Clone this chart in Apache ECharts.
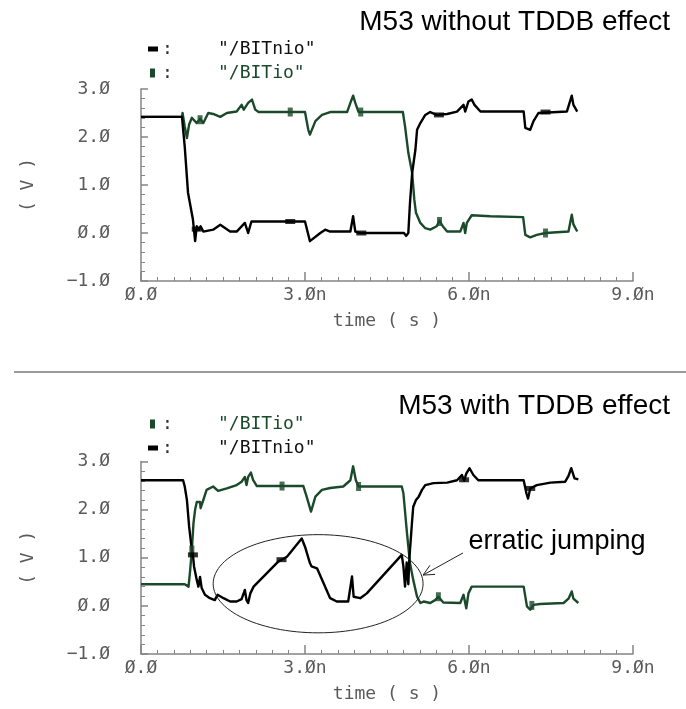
<!DOCTYPE html>
<html>
<head>
<meta charset="utf-8">
<script src="https://cdn.jsdelivr.net/npm/echarts@6/dist/echarts.min.js"></script>
<style>
  html, body { margin: 0; padding: 0; background: #fff; }
  #chart { width: 686px; height: 709px; }
</style>
</head>
<body>
<div id="chart"></div>
<script>
// Waveforms: [time (ns), voltage (V)]
const topBitnio = [[0,2.42],[0.75,2.42],[0.80,1.80],[0.86,0.84],[0.95,0.28],[0.99,-0.17],[1.02,0.14],[1.06,0.07],[1.09,0.14],[1.14,0.03],[1.32,0.07],[1.45,0.17],[1.63,0.03],[1.75,0.03],[1.90,0.21],[1.96,0.00],[2.02,0.24],[3.00,0.24],[3.09,-0.17],[3.28,0.00],[3.37,0.07],[3.46,0.03],[3.83,0.03],[3.88,0.35],[3.92,0.03],[4.00,0.00],[4.81,0.00],[4.85,-0.06],[4.89,0.00],[4.92,0.62],[4.96,1.25],[5.02,1.74],[5.05,2.15],[5.11,2.29],[5.20,2.46],[5.29,2.52],[5.41,2.46],[5.60,2.48],[5.78,2.53],[5.90,2.67],[5.93,2.53],[5.99,2.74],[6.05,2.78],[6.10,2.67],[6.21,2.53],[7.00,2.53],[7.03,2.19],[7.12,2.15],[7.18,2.33],[7.27,2.50],[7.79,2.53],[7.88,2.86],[7.91,2.67],[7.98,2.53]];
const topBitio = [[0,2.42],[0.75,2.42],[0.76,2.50],[0.80,2.22],[0.84,1.98],[0.88,2.26],[0.93,2.40],[1.02,2.29],[1.08,2.38],[1.14,2.29],[1.23,2.50],[1.32,2.48],[1.45,2.42],[1.57,2.50],[1.75,2.53],[1.84,2.67],[1.88,2.57],[1.96,2.71],[2.03,2.78],[2.09,2.57],[2.15,2.52],[3.00,2.52],[3.06,2.15],[3.09,2.05],[3.19,2.33],[3.31,2.46],[3.46,2.52],[3.77,2.52],[3.83,2.71],[3.88,2.86],[3.92,2.71],[3.98,2.52],[4.79,2.52],[4.83,2.22],[4.89,1.67],[4.96,1.25],[5.00,0.69],[5.03,0.42],[5.11,0.21],[5.20,0.10],[5.29,0.07],[5.41,0.14],[5.46,0.26],[5.52,0.14],[5.60,0.03],[5.84,0.03],[5.90,0.21],[5.93,0.00],[5.96,0.21],[6.05,0.37],[6.39,0.35],[6.99,0.33],[7.03,-0.04],[7.12,-0.09],[7.24,-0.04],[7.40,0.00],[7.82,0.03],[7.88,0.38],[7.91,0.18],[7.98,0.03]];
const botBitio = [[0,0.45],[0.80,0.45],[0.82,0.49],[0.87,0.40],[0.90,0.75],[0.93,1.16],[0.96,1.72],[0.99,2.00],[1.02,2.16],[1.08,2.16],[1.09,2.03],[1.14,2.20],[1.20,2.41],[1.32,2.48],[1.41,2.39],[1.57,2.44],[1.75,2.51],[1.84,2.58],[1.90,2.68],[1.93,2.51],[1.96,2.68],[2.01,2.77],[2.05,2.62],[2.12,2.49],[2.97,2.49],[3.03,2.27],[3.11,1.96],[3.19,2.27],[3.31,2.41],[3.46,2.45],[3.70,2.48],[3.83,2.61],[3.88,2.90],[3.93,2.61],[3.98,2.48],[4.77,2.48],[4.80,2.34],[4.86,1.58],[4.92,0.89],[4.98,0.54],[5.05,0.19],[5.11,0.06],[5.17,0.09],[5.29,0.06],[5.38,0.12],[5.44,0.19],[5.53,0.07],[5.84,0.06],[5.90,0.23],[5.95,-0.05],[5.99,0.26],[6.05,0.40],[7.00,0.40],[7.06,-0.01],[7.12,-0.08],[7.18,0.02],[7.30,0.04],[7.73,0.06],[7.82,0.15],[7.88,0.30],[7.91,0.15],[8.00,0.06]];
const botBitnio = [[0,2.61],[0.77,2.61],[0.80,2.48],[0.84,2.20],[0.88,1.65],[0.93,1.16],[0.95,1.06],[0.97,0.82],[1.02,0.54],[1.05,0.40],[1.08,0.60],[1.11,0.37],[1.17,0.23],[1.26,0.16],[1.35,0.12],[1.40,0.23],[1.51,0.16],[1.63,0.09],[1.75,0.09],[1.84,0.14],[1.90,0.33],[1.93,0.12],[1.96,0.06],[2.00,0.26],[2.06,0.40],[2.51,0.92],[2.67,1.02],[2.94,1.40],[3.00,1.23],[3.09,0.89],[3.12,0.82],[3.22,0.78],[3.34,0.47],[3.46,0.16],[3.58,0.09],[3.79,0.09],[3.86,0.61],[3.89,0.19],[4.01,0.16],[4.13,0.26],[4.77,1.06],[4.80,0.82],[4.83,0.40],[4.86,0.90],[4.89,0.45],[4.91,1.00],[4.96,1.78],[4.98,2.06],[5.03,2.20],[5.08,2.27],[5.14,2.41],[5.20,2.51],[5.35,2.55],[5.60,2.56],[5.78,2.61],[5.87,2.72],[5.91,2.60],[5.95,2.75],[6.01,2.86],[6.08,2.72],[6.17,2.61],[7.00,2.61],[7.05,2.34],[7.08,2.23],[7.12,2.44],[7.24,2.51],[7.49,2.56],[7.76,2.58],[7.82,2.70],[7.87,2.86],[7.93,2.65],[8.00,2.63]];

// Plot-symbol markers sitting on the traces
const topBitnioMarks = [[1.02,0.08],[2.73,0.24],[4.03,0.00],[5.45,2.46],[7.40,2.52]];
const topBitioMarks = [[1.08,2.36],[2.73,2.52],[4.02,2.52],[5.46,0.24],[7.40,0.00]];
const botBitioMarks = [[0.93,1.16],[2.58,2.49],[3.98,2.48],[5.44,0.19],[7.15,0.01]];
const botBitnioMarks = [[0.95,1.06],[2.57,0.96],[5.91,2.62],[7.12,2.44]];

// Axis tick labels
const xTickLabels = ['Ø.Ø', '3.Øn', '6.Øn', '9.Øn'];
const yTickLabels = ['−1.Ø', 'Ø.Ø', '1.Ø', '2.Ø', '3.Ø'];

const NIO_NAME = '"/BITnio"';
const IO_NAME = '"/BITio"';
const BLACK = '#000000';
const GREEN = '#1b4a2b';
const AXIS = '#858585';
const LABEL = '#5a5a5a';
const MONO = 'DejaVu Sans Mono';
const SANS = 'Liberation Sans';

function xAxisCfg(gi) {
  return {
    type: 'value', gridIndex: gi, min: 0, max: 9, interval: 3,
    name: 'time ( s )', nameLocation: 'middle', nameGap: 31,
    nameTextStyle: { fontFamily: MONO, fontSize: 18, color: LABEL },
    axisLine: { show: true, onZero: false, lineStyle: { color: AXIS, width: 1.5 } },
    axisTick: { show: true, inside: true, length: 9, lineStyle: { color: AXIS, width: 1.5 } },
    minorTick: { show: true, splitNumber: 10, length: 4, lineStyle: { color: AXIS, width: 1 } },
    splitLine: { show: false }, minorSplitLine: { show: false },
    axisLabel: {
      margin: 5, fontFamily: MONO, fontSize: 18, color: LABEL,
      formatter: v => xTickLabels[Math.round(v / 3)]
    }
  };
}

function yAxisCfg(gi) {
  return {
    type: 'value', gridIndex: gi, min: -1, max: 3, interval: 1,
    name: '( V )', nameLocation: 'middle', nameGap: 104, nameRotate: 90,
    nameTextStyle: { fontFamily: MONO, fontSize: 18, color: LABEL },
    axisLine: { show: true, onZero: false, lineStyle: { color: AXIS, width: 1.5 } },
    axisTick: { show: true, inside: true, length: 7, lineStyle: { color: AXIS, width: 1.5 } },
    minorTick: { show: true, splitNumber: 5, length: 4, lineStyle: { color: AXIS, width: 1 } },
    splitLine: { show: false }, minorSplitLine: { show: false },
    axisLabel: {
      margin: 31, fontFamily: MONO, fontSize: 18, color: LABEL, padding: [0, 0, 8, 0],
      formatter: v => yTickLabels[Math.round(v + 1)]
    }
  };
}

function trace(name, gi, data, color) {
  return {
    name, type: 'line', xAxisIndex: gi, yAxisIndex: gi, data,
    showSymbol: false, symbol: 'none', silent: true, animation: false,
    lineStyle: { color, width: 2.4, join: 'round' }, itemStyle: { color }
  };
}

function marks(gi, data, color, size) {
  return {
    type: 'scatter', xAxisIndex: gi, yAxisIndex: gi, data, silent: true,
    animation: false, symbol: 'rect', symbolSize: size, itemStyle: { color }, z: 3
  };
}

const chart = echarts.init(document.getElementById('chart'), null, { renderer: 'canvas' });

chart.setOption({
  backgroundColor: '#ffffff',
  animation: false,
  title: [
    { text: 'M53 without TDDB effect', right: 11, top: 3,
      textStyle: { fontFamily: SANS, fontSize: 28, fontWeight: 'normal', color: '#000' } },
    { text: 'M53 with TDDB effect', right: 11, top: 387,
      textStyle: { fontFamily: SANS, fontSize: 28, fontWeight: 'normal', color: '#000' } }
  ],
  grid: [
    { left: 141, right: 53, top: 89, bottom: 428 },
    { left: 141, right: 53, top: 461.5, bottom: 55 }
  ],
  xAxis: [xAxisCfg(0), xAxisCfg(1)],
  yAxis: [yAxisCfg(0), yAxisCfg(1)],
  series: [
    trace(IO_NAME, 0, topBitio, GREEN),
    trace(NIO_NAME, 0, topBitnio, BLACK),
    marks(0, topBitioMarks, GREEN, [5, 9]),
    marks(0, topBitnioMarks, BLACK, [10, 5]),
    trace(IO_NAME, 1, botBitio, GREEN),
    trace(NIO_NAME, 1, botBitnio, BLACK),
    marks(1, botBitioMarks, GREEN, [5, 9]),
    marks(1, botBitnioMarks, BLACK, [10, 5])
  ]
});

// Legend rows, separator and the annotation in the lower plot
function legendRow(y, kind) {
  const isNio = kind === 'nio';
  const color = isNio ? BLACK : GREEN;
  return [
    { type: 'rect', shape: isNio ? { x: 148, y: y - 2.5, width: 10, height: 5 } : { x: 150, y: y - 4.5, width: 5, height: 9 },
      style: { fill: color }, silent: true },
    { type: 'text', x: 162, y: y, style: { text: ':', fontFamily: MONO, fontSize: 18, fill: '#333', align: 'left', verticalAlign: 'middle' }, silent: true },
    { type: 'text', x: 218, y: y, style: { text: isNio ? NIO_NAME : IO_NAME, fontFamily: MONO, fontSize: 18, fill: isNio ? '#111' : GREEN, align: 'left', verticalAlign: 'middle' }, silent: true }
  ];
}

const px = (t, v) => chart.convertToPixel({ gridIndex: 1 }, [t, v]);

// ellipse around the erratic segment, in data units
const ring = { t: 3.24, v: 0.46, rt: 1.92, rv: 1.02 };
const ringPts = [];
for (let i = 0; i <= 120; i++) {
  const a = (i / 120) * Math.PI * 2;
  ringPts.push(px(ring.t + ring.rt * Math.cos(a), ring.v + ring.rv * Math.sin(a)));
}

// callout arrow
const tail = px(5.89, 1.10);
const tip = px(5.16, 0.64);
const ang = Math.atan2(tail[1] - tip[1], tail[0] - tip[0]);
const head = (d) => [tip[0] + 12 * Math.cos(ang + d), tip[1] + 12 * Math.sin(ang + d)];
const notePos = px(5.99, 1.33);

chart.setOption({
  graphic: [
    ...legendRow(49, 'nio'),
    ...legendRow(73, 'io'),
    ...legendRow(424, 'io'),
    ...legendRow(448, 'nio'),
    { type: 'line', shape: { x1: 14, y1: 372, x2: 686, y2: 372 }, style: { stroke: '#9a9a9a', lineWidth: 2 }, silent: true },
    { type: 'polyline', shape: { points: ringPts }, style: { stroke: '#222', lineWidth: 1, fill: null }, silent: true, z: 10 },
    { type: 'line', shape: { x1: tail[0], y1: tail[1], x2: tip[0], y2: tip[1] }, style: { stroke: '#222', lineWidth: 1 }, silent: true, z: 10 },
    { type: 'polyline', shape: { points: [head(0.45), tip, head(-0.45)] }, style: { stroke: '#222', lineWidth: 1, fill: null }, silent: true, z: 10 },
    { type: 'text', x: notePos[0], y: notePos[1], style: { text: 'erratic jumping', fontFamily: SANS, fontSize: 27, fill: '#000', align: 'left', verticalAlign: 'middle' }, silent: true, z: 10 }
  ]
});
</script>
</body>
</html>
